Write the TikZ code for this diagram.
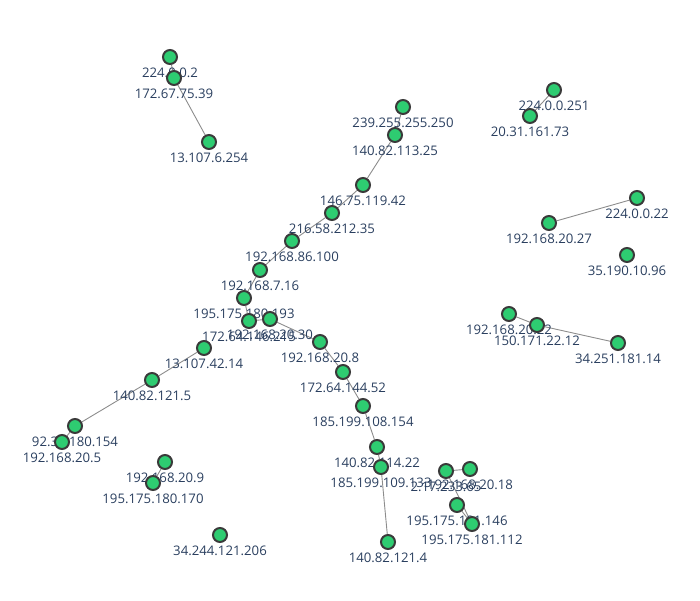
\documentclass[tikz,border=0pt]{standalone}
\usepackage{fontspec}
\setmainfont{Open Sans}
\usetikzlibrary{positioning}
\definecolor{hostgreen}{HTML}{2ECC71}
\definecolor{hostrim}{HTML}{3A3A3A}
\definecolor{linkgray}{HTML}{8C8C8C}
\definecolor{ipblue}{HTML}{2A3F5F}
\pgfdeclarelayer{links}
\pgfdeclarelayer{texts}
\pgfsetlayers{links,texts,main}
\tikzset{	x=1pt, y=-1pt,
	host/.style={
		circle,
		draw=hostrim,
		fill=hostgreen,
		line width=2pt,
		minimum size=14pt,
		inner sep=0pt},
	ip/.style={
		below=2.5pt of #1,
		inner sep=0pt,
		text=ipblue,
		font=\fontsize{13.2}{15}\selectfont},
	every edge/.style={
		draw=linkgray,
		line width=0.9pt}
}

\begin{document}
\begin{tikzpicture}
			\useasboundingbox (0,0) rectangle (700,600);
			\node[host] (h1) at (170,57) {};
			\node[host] (h2) at (174,78) {};
			\node[host] (h3) at (209,142) {};
			\node[host] (h4) at (403,107) {};
			\node[host] (h5) at (395,135) {};
			\node[host] (h6) at (363,185) {};
			\node[host] (h7) at (332,213) {};
			\node[host] (h8) at (292,241) {};
			\node[host] (h9) at (260,270) {};
			\node[host] (h10) at (244,298) {};
			\node[host] (h11) at (249,321) {};
			\node[host] (h12) at (270,319) {};
			\node[host] (h13) at (320,342) {};
			\node[host] (h14) at (343,372) {};
			\node[host] (h15) at (363,406) {};
			\node[host] (h16) at (377,447) {};
			\node[host] (h17) at (381,467) {};
			\node[host] (h18) at (388,542) {};
			\node[host] (h19) at (204,348) {};
			\node[host] (h20) at (152,380) {};
			\node[host] (h21) at (75,426) {};
			\node[host] (h22) at (62,442) {};
			\node[host] (h23) at (165,462) {};
			\node[host] (h24) at (153,483) {};
			\node[host] (h25) at (220,535) {};
			\node[host] (h26) at (446,471) {};
			\node[host] (h27) at (470,469) {};
			\node[host] (h28) at (457,505) {};
			\node[host] (h29) at (472,524) {};
			\node[host] (h30) at (554,90) {};
			\node[host] (h31) at (530,116) {};
			\node[host] (h32) at (637,198) {};
			\node[host] (h33) at (549,223) {};
			\node[host] (h34) at (627,255) {};
			\node[host] (h35) at (509,314) {};
			\node[host] (h36) at (537,325) {};
			\node[host] (h37) at (618,343) {};
			\begin{pgfonlayer}{texts}
			\node[ip=h1] (t1) {224.0.0.2};
			\node[ip=h2] (t2) {172.67.75.39};
			\node[ip=h3] (t3) {13.107.6.254};
			\node[ip=h4] (t4) {239.255.255.250};
			\node[ip=h5] (t5) {140.82.113.25};
			\node[ip=h6] (t6) {146.75.119.42};
			\node[ip=h7] (t7) {216.58.212.35};
			\node[ip=h8] (t8) {192.168.86.100};
			\node[ip=h9] (t9) {192.168.7.16};
			\node[ip=h10] (t10) {195.175.180.193};
			\node[ip=h11] (t11) {172.64.146.215};
			\node[ip=h12] (t12) {192.168.20.30};
			\node[ip=h13] (t13) {192.168.20.8};
			\node[ip=h14] (t14) {172.64.144.52};
			\node[ip=h15] (t15) {185.199.108.154};
			\node[ip=h16] (t16) {140.82.114.22};
			\node[ip=h17] (t17) {185.199.109.133};
			\node[ip=h18] (t18) {140.82.121.4};
			\node[ip=h19] (t19) {13.107.42.14};
			\node[ip=h20] (t20) {140.82.121.5};
			\node[ip=h21] (t21) {92.38.180.154};
			\node[ip=h22] (t22) {192.168.20.5};
			\node[ip=h23] (t23) {192.168.20.9};
			\node[ip=h24] (t24) {195.175.180.170};
			\node[ip=h25] (t25) {34.244.121.206};
			\node[ip=h26] (t26) {2.17.233.65};
			\node[ip=h27] (t27) {192.168.20.18};
			\node[ip=h28] (t28) {195.175.181.146};
			\node[ip=h29] (t29) {195.175.181.112};
			\node[ip=h30] (t30) {224.0.0.251};
			\node[ip=h31] (t31) {20.31.161.73};
			\node[ip=h32] (t32) {224.0.0.22};
			\node[ip=h33] (t33) {192.168.20.27};
			\node[ip=h34] (t34) {35.190.10.96};
			\node[ip=h35] (t35) {192.168.20.22};
			\node[ip=h36] (t36) {150.171.22.12};
			\node[ip=h37] (t37) {34.251.181.14};
			\end{pgfonlayer}
			\begin{pgfonlayer}{links}
			\draw (h1) edge (h2);
			\draw (h2) edge (h3);
			\draw (h4) edge (h5);
			\draw (h5) edge (h6);
			\draw (h6) edge (h7);
			\draw (h7) edge (h8);
			\draw (h8) edge (h9);
			\draw (h9) edge (h10);
			\draw (h10) edge (h11);
			\draw (h11) edge (h12);
			\draw (h12) edge (h13);
			\draw (h13) edge (h14);
			\draw (h14) edge (h15);
			\draw (h15) edge (h16);
			\draw (h16) edge (h17);
			\draw (h17) edge (h18);
			\draw (h19) edge (h20);
			\draw (h20) edge (h21);
			\draw (h21) edge (h22);
			\draw (h23) edge (h24);
			\draw (h26) edge (h27);
			\draw (h26) edge (h29);
			\draw (h28) edge (h29);
			\draw (h30) edge (h31);
			\draw (h32) edge (h33);
			\draw (h35) edge (h36);
			\draw (h36) edge (h37);
			\end{pgfonlayer}
		\end{tikzpicture}
\end{document}
